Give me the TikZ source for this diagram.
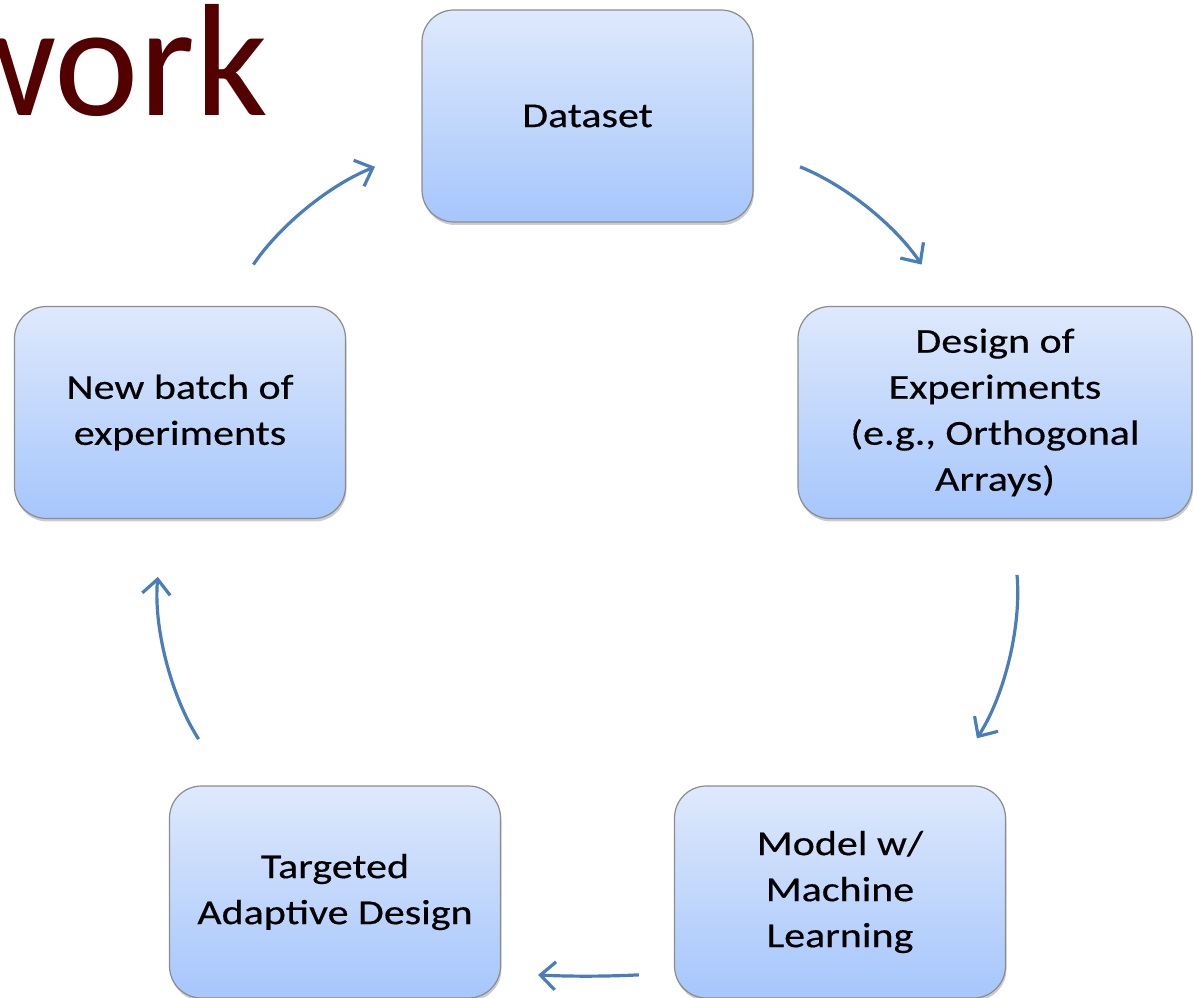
\documentclass[tikz,border=0pt]{standalone}
\usepackage{fontspec}
\setmainfont{Carlito}
\newfontfamily\boxfont{Carlito}[FakeStretch=1.2, FakeBold=0.4]
\usetikzlibrary{shadows,arrows.meta}

\definecolor{boxtop}{RGB}{222,233,252}
\definecolor{boxbot}{RGB}{166,198,252}
\definecolor{cycblue}{RGB}{74,126,187}
\definecolor{titlered}{RGB}{83,0,0}

\tikzstyle{b1} = [rectangle, rounded corners=32pt, draw=black!45, line width=1.2pt,
  top color=boxtop, bottom color=boxbot, minimum width=331pt, minimum height=212pt,
  align=center, font=\boxfont\fontsize{35}{46}\selectfont,
  drop shadow={shadow xshift=1pt, shadow yshift=-3pt, opacity=0.4}]
\tikzstyle{a1} = [draw=cycblue, line width=3.2pt, -{Straight Barb[length=15pt,width=28pt]}]

\begin{document}
\begin{tikzpicture}[x=1pt, y=1pt]
    \useasboundingbox (0,0) rectangle (1194,997);
    \node[font=\fontsize{160}{160}\selectfont, text=titlered, anchor=base east,
      inner sep=0pt] (ttl) at (268,881) {work};

    \node[b1] (data) at (587.5,881) {Dataset};
    \node[b1, minimum width=394pt] (doe) at (995,584.5)
      {Design of\\Experiments\\(e.g., Orthogonal\\Arrays)};
    \node[b1] (model) at (840,105) {Model w/\\Machine\\Learning};
    \node[b1] (tad) at (335,105) {Targeted\\Adaptive Design};
    \node[b1] (newb) at (180,584.5) {New batch of\\experiments};

    \draw[a1, shorten <=50pt, shorten >=50pt] (data.-11) to[bend left=17] (doe.113);
    \draw[a1, shorten <=56pt, shorten >=56pt] (doe.-81) to[bend left=19] (model.45);
    \draw[a1, shorten <=35pt, shorten >=37pt] (model.-154) to[bend left=3] (tad.-26);
    \draw[a1, shorten <=55pt, shorten >=58pt] (tad.135) to[bend left=19] (newb.-99);
    \draw[a1, shorten <=50pt, shorten >=50pt] (newb.67) to[bend left=17] (data.191);
  \end{tikzpicture}
\end{document}
